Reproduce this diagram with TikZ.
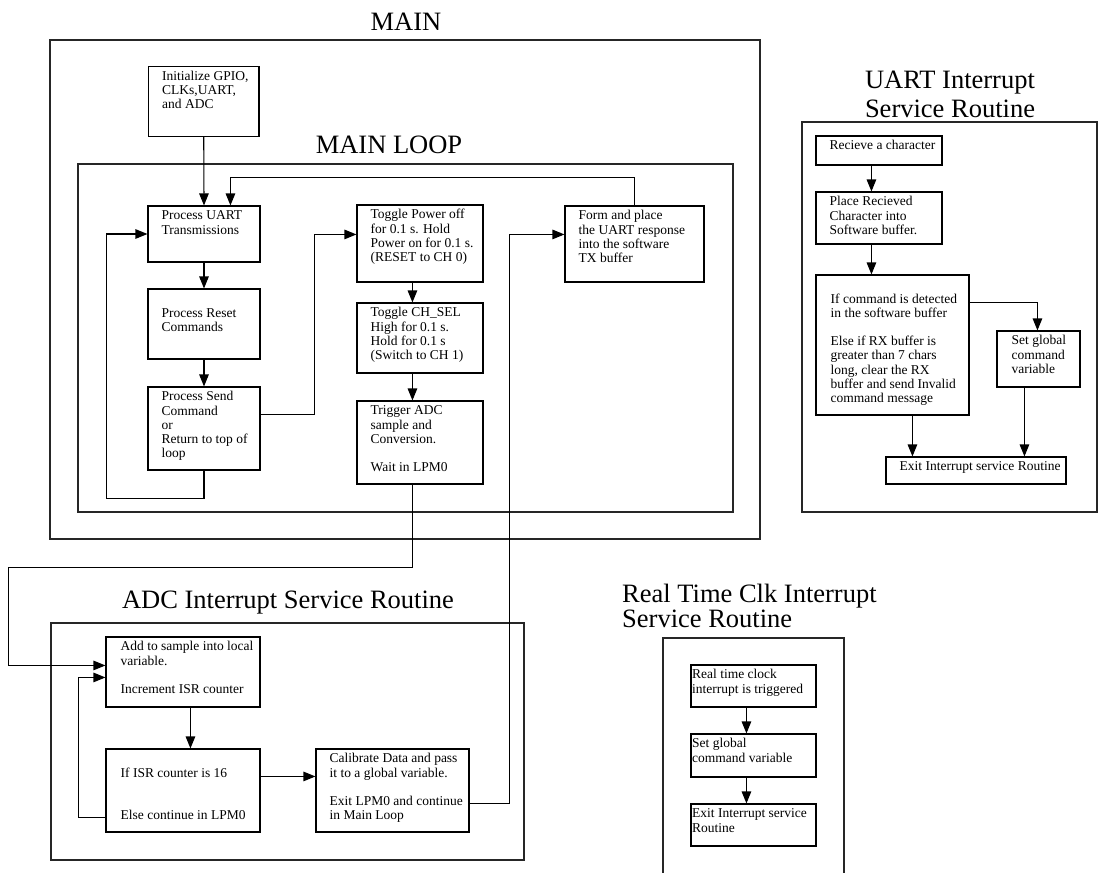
\documentclass[tikz,border=0pt]{standalone}
\usepackage{fontspec}
\setmainfont{Liberation Serif}
\usetikzlibrary{arrows.meta,calc,fit}

\newcommand{\boxfont}{\fontsize{13.5}{14.2}\selectfont}
\newcommand{\titlefont}{\fontsize{26.5}{29}\selectfont}

\tikzset{
  x=1pt, y=-1pt,
  flowbox/.style={draw, line width=1.1pt, inner sep=0pt},
  flowtext/.style={inner sep=0pt, anchor=base west, font=\boxfont},
  outerframe/.style={draw=black!85, line width=1.2pt, inner sep=0pt},
  heading/.style={inner sep=0pt, font=\titlefont},
  wire/.style={line width=1.1pt},
  arr/.style={wire, -{Triangle[length=12pt,width=9.5pt]}},
}

% \flow[text inset]{name}{left}{top}{right}{bottom}{lines}
\newcommand{\flow}[7][14]{%
  \node[flowbox, fit={(#3,#4) (#5,#6)}] (#2) {};
  \node[flowtext] (#2-t) at ($(#2.north west)+(#1,14.5)$)
    {\begin{tabular}[t]{@{}l@{}}#7\end{tabular}};
}

\begin{document}
\begin{tikzpicture}
\useasboundingbox (0,0) rectangle (1117,873);

% ---------------- containers and headings ----------------
\node[outerframe, fit={(50,40) (760,539)}] (mainframe) {};
\node[outerframe, fit={(78,164) (733,512)}] (loopframe) {};
\node[outerframe, fit={(51,623) (524,860)}] (adcframe) {};
\node[outerframe, fit={(802,122) (1097,512)}] (uartframe) {};
\draw[draw=black!85, line width=1.2pt] (663,873) -- (663,638) -- (844,638) -- (844,873);

\node[heading, anchor=base] (tmain) at (406,30) {MAIN};
\node[heading, anchor=base] (tloop) at (389,153) {MAIN LOOP};
\node[heading, anchor=base] (tadc) at (288,608) {ADC Interrupt Service Routine};
\node[heading, anchor=base] (tuart) at (950,88)
  {\begin{tabular}[t]{@{}c@{}}UART Interrupt\\Service Routine\end{tabular}};
\node[heading, anchor=base west] (trtc) at (622,602)
  {\fontsize{26.5}{25}\selectfont\begin{tabular}[t]{@{}l@{}}Real Time Clk Interrupt\\Service Routine\end{tabular}};

% ---------------- main ----------------
\flow{init}{148.5}{66.5}{259}{136.5}{Initialize GPIO,\\CLKs,UART,\\and ADC}
\flow{uart}{148}{206}{260}{262}{Process UART\\Transmissions}
\flow{reset}{148}{289}{260}{359}{~\\Process Reset\\Commands}
\flow{send}{148}{387}{260}{470}{Process Send\\Command\\or\\Return to top of\\loop}
\flow{toggle}{357}{205}{483}{282}{Toggle Power off\\for 0.1 s. Hold\\Power on for 0.1 s.\\(RESET to CH 0)}
\flow{chsel}{357}{303}{483}{373}{Toggle CH\_SEL\\High for 0.1 s.\\Hold for 0.1 s\\(Switch to CH 1)}
\flow{trig}{357}{401}{483}{484}{Trigger ADC\\sample and\\Conversion.\\~\\Wait in LPM0}
\flow{form}{565}{206}{704}{282}{Form and place\\the UART response\\into the software\\TX buffer}

% ---------------- ADC ISR ----------------
\flow[15]{addto}{106}{637}{260}{707}{Add to sample into local\\variable.\\~\\Increment ISR counter}
\flow[15]{ifisr}{106}{749}{260}{832}{~\\If ISR counter is 16\\~\\~\\Else continue in LPM0}
\flow{calib}{316}{749}{469}{832}{Calibrate Data and pass\\it to a global variable.\\~\\Exit LPM0 and continue\\in Main Loop}

% ---------------- UART ISR ----------------
\flow{recv}{816}{136}{942}{165}{Recieve a character}
\flow{place}{816}{192}{942}{244}{Place Recieved\\Character into\\Software buffer.}
\flow[15]{ifu}{816}{275}{969}{415}{~\\If command is detected\\in the software buffer\\~\\Else if RX buffer is\\greater than 7 chars\\long, clear the RX\\buffer and send Invalid\\command message}
\flow[15]{setu}{997}{331}{1080}{387}{Set global\\command\\variable}
\flow{exitu}{886}{457}{1066}{484}{Exit Interrupt service Routine}

% ---------------- real time clock ISR ----------------
\flow[1.5]{rtca}{691}{665}{816}{707}{Real time clock\\interrupt is triggered}
\flow[1.5]{rtcb}{691}{734}{816}{777}{Set global\\command variable}
\flow[1.5]{rtcc}{691}{804}{816}{846}{Exit Interrupt service\\Routine}

% ---------------- connectors: main loop ----------------
\draw[arr] (init.south) -- (uart.north);
\draw[arr] (uart.south) -- (reset.north);
\draw[arr] (reset.south) -- (send.north);
\draw[arr] (send.south) -- ++(0,28) -| ($(uart.west)+(-41,0)$) -- (uart.west);
\draw[arr] ($(send.north east)+(0,28)$) -| ($(toggle.north west)+(-42,30)$) -- ($(toggle.north west)+(0,30)$);
\draw[arr] ($(toggle.south west)+(56,0)$) -- ($(chsel.north west)+(56,0)$);
\draw[arr] ($(chsel.south west)+(56,0)$) -- ($(trig.north west)+(56,0)$);
\draw[arr] (form.north) -- ++(0,-28) -| ($(uart.north west)+(83,0)$);

% main loop <-> ADC ISR
\draw[arr] ($(trig.south west)+(56,0)$) -- ++(0,83) -| ($(addto.north west)+(-97,29)$) -- ($(addto.north west)+(0,29)$);
\draw[arr] ($(calib.north east)+(0,55)$) -| ($(form.north west)+(-55,29)$) -- ($(form.north west)+(0,29)$);

% ---------------- connectors: ADC ISR ----------------
\draw[arr] ($(addto.south west)+(85,0)$) -- ($(ifisr.north west)+(85,0)$);
\draw[arr] ($(ifisr.north east)+(0,28)$) -- ($(calib.north west)+(0,28)$);
\draw[arr] ($(ifisr.north west)+(0,69)$) -| ($(addto.north west)+(-27,41)$) -- ($(addto.north west)+(0,41)$);

% ---------------- connectors: UART ISR ----------------
\draw[arr] ($(recv.south west)+(56,0)$) -- ($(place.north west)+(56,0)$);
\draw[arr] ($(place.south west)+(56,0)$) -- ($(ifu.north west)+(56,0)$);
\draw[arr] ($(ifu.north east)+(0,28)$) -| ($(setu.north west)+(41,0)$);
\draw[arr] ($(ifu.south west)+(97,0)$) -- ($(exitu.north west)+(27,0)$);
\draw[arr] ($(setu.south west)+(28,0)$) -- ($(exitu.north west)+(139,0)$);

% ---------------- connectors: real time clock ISR ----------------
\draw[arr] ($(rtca.south west)+(56,0)$) -- ($(rtcb.north west)+(56,0)$);
\draw[arr] ($(rtcb.south west)+(56,0)$) -- ($(rtcc.north west)+(56,0)$);
\end{tikzpicture}
\end{document}
